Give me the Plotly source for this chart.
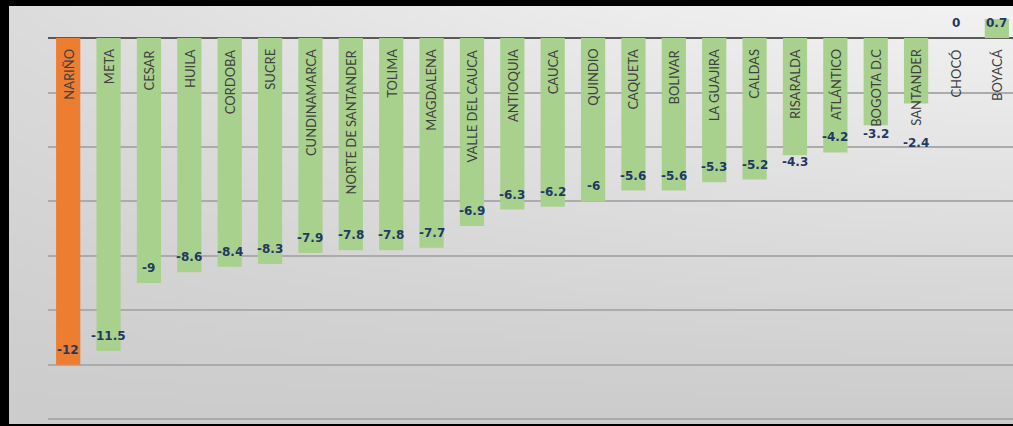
import base64, struct, zlib
import numpy as np
import plotly.graph_objects as go

categories = ["NARIÑO", "META", "CESAR", "HUILA", "CORDOBA", "SUCRE", "CUNDINAMARCA",
              "NORTE DE SANTANDER", "TOLIMA", "MAGDALENA", "VALLE DEL CAUCA", "ANTIOQUIA",
              "CAUCA", "QUINDIO", "CAQUETA", "BOLIVAR", "LA GUAJIRA", "CALDAS", "RISARALDA",
              "ATLÁNTICO", "BOGOTA D.C", "SANTANDER", "CHOCÓ", "BOYACÁ"]
values = [-12, -11.5, -9, -8.6, -8.4, -8.3, -7.9, -7.8, -7.8, -7.7, -6.9, -6.3,
          -6.2, -6, -5.6, -5.6, -5.3, -5.2, -4.3, -4.2, -3.2, -2.4, 0, 0.7]
highlight = "NARIÑO"
y_ticks = [0, -2, -4, -6, -8, -10, -12, -14]

# label offsets (pixels) for manually placed value labels; default = inside end
label_shift = {"RISARALDA": -7, "BOGOTA D.C": -9, "SANTANDER": -40, "CHOCÓ": 15, "BOYACÁ": -4}
DEFAULT_SHIFT = 15

W, H = 1013, 426
ML, MR, MT, MB = 48, 0, 6, 5
PW, PH = W - ML - MR, H - MT - MB


def gradient_png(w=203, h=86):
    xs = np.linspace(0, 1, w)[None, :]
    ys = np.linspace(0, 1, h)[:, None]
    c = 242 - 38 * ys - 22 * (1 - xs) ** 1.5 * (1 - ys)
    arr = np.clip(c, 0, 255).astype(np.uint8)
    arr = np.repeat(arr[:, :, None], 3, axis=2)
    raw = b"".join(b"\x00" + row.tobytes() for row in arr)

    def chunk(t, d):
        return struct.pack(">I", len(d)) + t + d + struct.pack(">I", zlib.crc32(t + d) & 0xffffffff)

    png = b"\x89PNG\r\n\x1a\n" + chunk(b"IHDR", struct.pack(">IIBBBBB", w, h, 8, 2, 0, 0, 0)) \
        + chunk(b"IDAT", zlib.compress(raw, 9)) + chunk(b"IEND", b"")
    return "data:image/png;base64," + base64.b64encode(png).decode()


colors = ["#ED7D31" if c == highlight else "#A9D18E" for c in categories]
xs = list(range(len(categories)))

fig = go.Figure()
fig.add_trace(go.Bar(x=xs, y=values, marker=dict(color=colors, line=dict(width=0)),
                     width=0.6, hoverinfo="skip"))

annotations = []
for i, (c, v) in enumerate(zip(categories, values)):
    annotations.append(dict(x=i, y=0, xref="x", yref="y", text=c, textangle=-90,
                            showarrow=False, yanchor="top", xanchor="center", yshift=-9,
                            font=dict(family="Lato", size=13, color="#404040")))
    annotations.append(dict(x=i, y=v, xref="x", yref="y", text=f"{v:g}", showarrow=False,
                            yanchor="middle", xanchor="center",
                            yshift=label_shift.get(c, DEFAULT_SHIFT),
                            font=dict(family="DejaVu Sans", size=12, color="#1F3864", weight="bold")))

fig.update_layout(
    width=W, height=H,
    margin=dict(l=ML, r=MR, t=MT, b=MB, pad=0),
    paper_bgcolor="#000000",
    plot_bgcolor="rgba(0,0,0,0)",
    showlegend=False,
    bargap=0.4,
    annotations=annotations,
    images=[dict(source=gradient_png(), xref="paper", yref="paper",
                 x=(9 - ML) / PW, y=1, sizex=(W - 9) / PW, sizey=(424 - MT) / PH,
                 xanchor="left", yanchor="top", sizing="stretch", layer="below")],
    xaxis=dict(range=[-0.5, 23.4], showticklabels=False, showgrid=False, zeroline=False,
               showline=False, ticks="", fixedrange=True),
    yaxis=dict(range=[-14.07, 1.18], tickvals=y_ticks, showticklabels=False, ticks="",
               showgrid=True, gridcolor="#ABABAB", gridwidth=1.5,
               zeroline=True, zerolinecolor="#595959", zerolinewidth=2,
               showline=False, fixedrange=True),
)

fig.write_html("out.html", config={"displayModeBar": False},
               post_script="document.body.style.margin='0px';document.body.style.overflow='hidden';")
